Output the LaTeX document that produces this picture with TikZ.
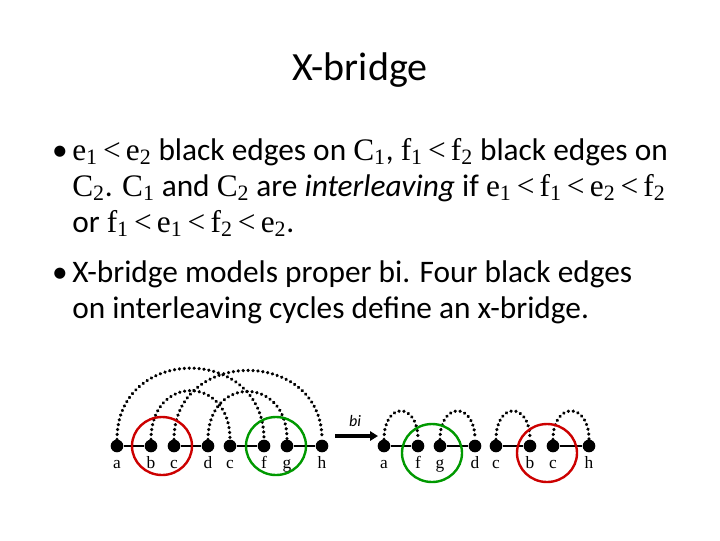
\documentclass[tikz,border=0pt]{standalone}
\usepackage{fontspec}
\setmainfont{Carlito}
\newfontfamily\mathf{Liberation Serif}
\usetikzlibrary{arrows.meta}
\newcommand{\mv}[2]{{\mathf #1\textsubscript{#2}}}
\newcommand{\lt}{{\mathf\,<\,}}
\begin{document}
\begin{tikzpicture}[x=0.75pt,y=-0.75pt,
  txt/.style={anchor=base west,inner sep=0pt,font=\fontsize{23.5}{28}\selectfont},
  dot/.style={circle,fill=black,inner sep=0pt,minimum size=9.5pt},
  lab/.style={font=\mathf\fontsize{13}{15}\selectfont,inner sep=0pt,anchor=base},
  gray/.style={dash pattern=on 0.1pt off 3.6pt,line width=2.6pt,line cap=round},
  blk/.style={line width=1.6pt},
  ring/.style={line width=1.8pt}]
\useasboundingbox (0,0) rectangle (720,540);
\node[anchor=base,font=\fontsize{30}{34}\selectfont] (title) at (360,80) {X-bridge};
\node[txt,anchor=base] (b1) at (60,160) {•};
\node[txt] (l1) at (72,160) {\mv{e}{1}\lt\mv{e}{2} black edges on \mv{C}{1}, \mv{f}{1}\lt\mv{f}{2} black edges on};
\node[txt] (l2) at (72,196) {\mv{C}{2}. \mv{C}{1} and \mv{C}{2} are \textit{interleaving} if \mv{e}{1}\lt\mv{f}{1}\lt\mv{e}{2}\lt\mv{f}{2}};
\node[txt] (l3) at (72,232) {or \mv{f}{1}\lt\mv{e}{1}\lt\mv{f}{2}\lt\mv{e}{2}.};
\node[txt,anchor=base] (b2) at (60,282) {•};
\node[txt] (l4) at (72,282) {X-bridge models proper bi. Four black edges};
\node[txt] (l5) at (72,318) {on interleaving cycles define an x-bridge.};
% left
\foreach \n/\x/\t in {a/117/a,b/151/b,c/174/c,d/208/d,e/230/c,f/264/f,g/287/g,h/322/h}{
  \node[dot] (L\n) at (\x,446) {};
  \node[lab] (LL\n) at (\x,468) {\t};
}
\foreach \n/\x/\t in {a/384/a,f/418/f,g/440/g,d/475/d,e/496/c,b/530/b,c/553/c,h/589/h}{
  \node[dot] (R\n) at (\x,446) {};
  \node[lab] (RL\n) at (\x,468) {\t};
}
\draw[blk] (La)--(Lb) (Lc)--(Ld) (Le)--(Lf) (Lg)--(Lh);
\draw[blk] (Ra)--(Rf) (Rg)--(Rd) (Re)--(Rb) (Rc)--(Rh);
\draw[gray] (La.north) .. controls +(0,-95) and +(0,-95) .. (Lf.north);
\draw[gray] (Lc.north) .. controls +(0,-92) and +(0,-92) .. (Lh.north);
\draw[gray] (Lb.north) .. controls +(0,-65) and +(0,-65) .. (Le.north);
\draw[gray] (Ld.north) .. controls +(0,-64) and +(0,-64) .. (Lg.north);
\foreach \p/\q in {a/f,g/d,e/b,c/h}
  \draw[gray] (R\p.north) .. controls +(0,-38) and +(0,-38) .. (R\q.north);
\coordinate (A1) at (335,436); \coordinate (A2) at (378,436);
\draw[line width=2.6pt,-{Triangle[length=6pt,width=7pt]}] (A1)--(A2);
\node[font=\itshape\fontsize{12}{14}\selectfont] (bi) at (355,421) {bi};
\draw[ring,red!80!black] (162,446) ellipse (30 and 29);
\draw[ring,green!60!black] (276,446) ellipse (30 and 29);
\draw[ring,green!60!black] (432,453) ellipse (30 and 29);
\draw[ring,red!80!black] (547,453) ellipse (30 and 29);
\end{tikzpicture}
\end{document}
